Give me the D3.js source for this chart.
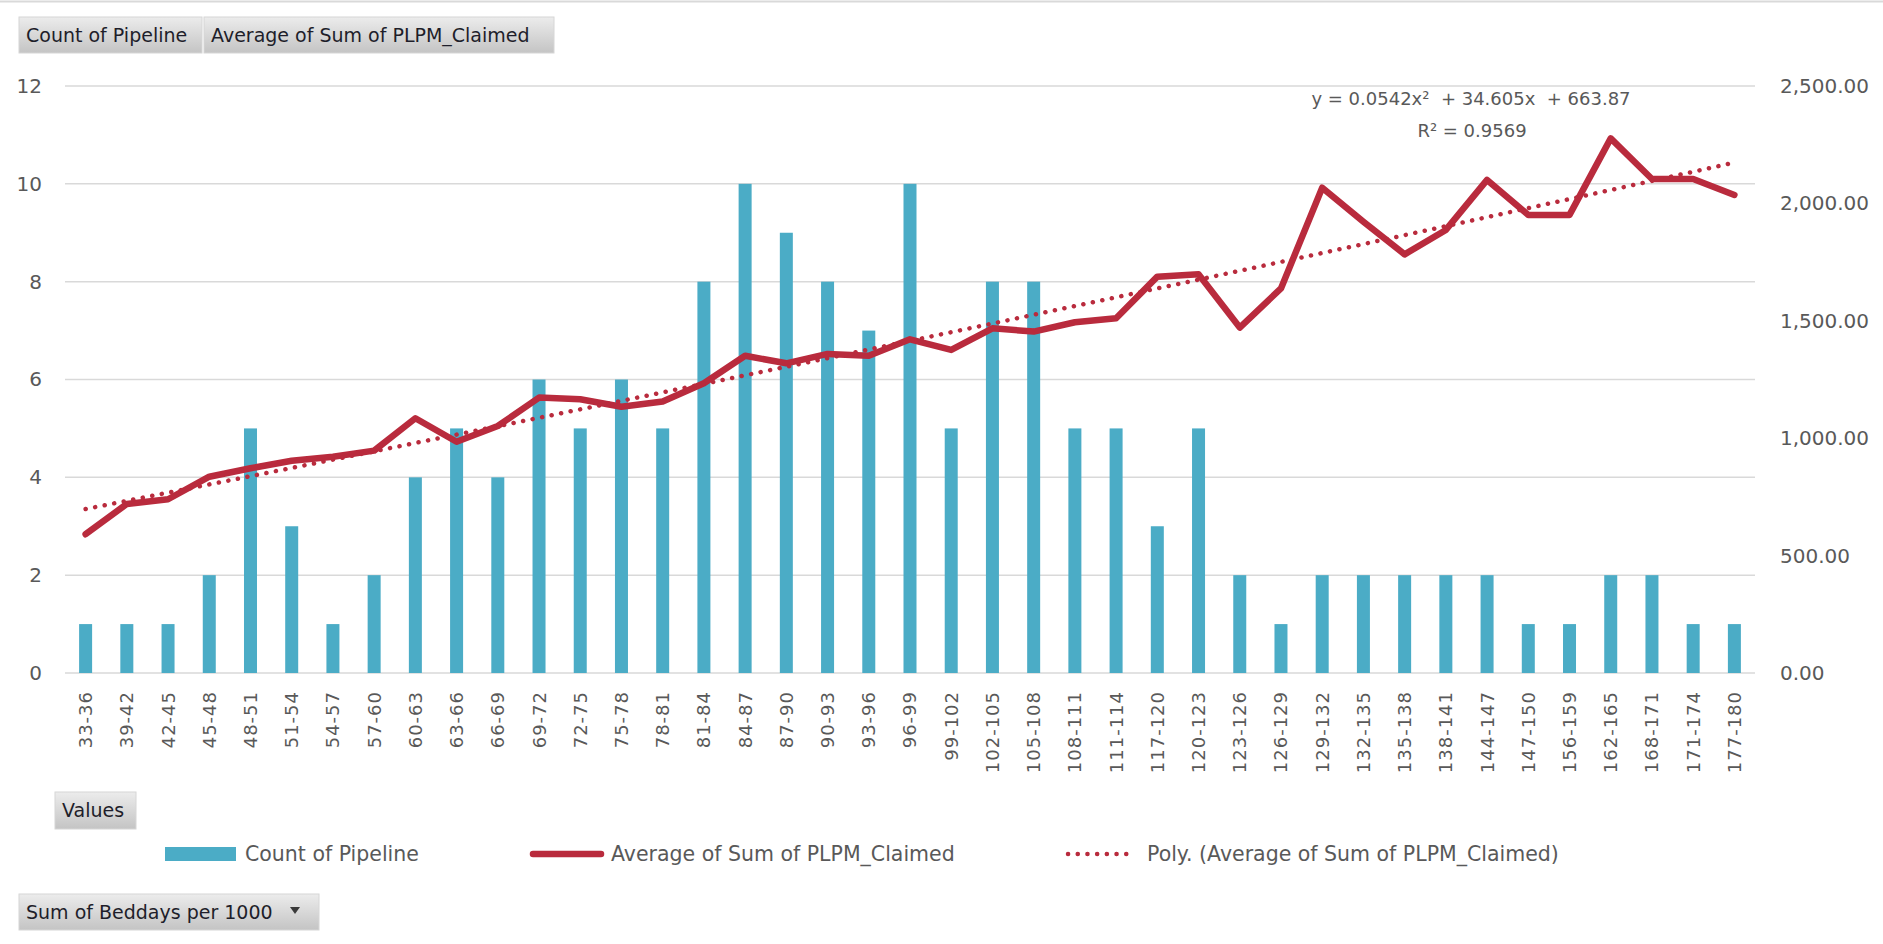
<!DOCTYPE html>
<html>
<head>
<meta charset="utf-8">
<script src="https://cdn.jsdelivr.net/npm/d3@7"></script>
<style>
  body { margin: 0; background: #fff; }
  text { font-family: 'DejaVu Sans', sans-serif; }
</style>
</head>
<body>
<script>
// data
const categories = ['33-36', '39-42', '42-45', '45-48', '48-51', '51-54', '54-57', '57-60', '60-63', '63-66',
  '66-69', '69-72', '72-75', '75-78', '78-81', '81-84', '84-87', '87-90', '90-93', '93-96',
  '96-99', '99-102', '102-105', '105-108', '108-111', '111-114', '117-120', '120-123', '123-126', '126-129',
  '129-132', '132-135', '135-138', '138-141', '144-147', '147-150', '156-159', '162-165', '168-171', '171-174', '177-180'];
const countOfPipeline = [1, 1, 1, 2, 5, 3, 1, 2, 4, 5,
  4, 6, 5, 6, 5, 8, 10, 9, 8, 7,
  10, 5, 8, 8, 5, 5, 3, 5, 2, 1,
  2, 2, 2, 2, 2, 1, 1, 2, 2, 1, 1];
const avgPlpmClaimed = [591, 720, 740, 836, 872, 904, 921, 947, 1085, 985,
  1052, 1173, 1166, 1134, 1156, 1234, 1351, 1319, 1359, 1351,
  1421, 1376, 1468, 1454, 1494, 1511, 1688, 1698, 1471, 1638,
  2067, 1922, 1783, 1887, 2100, 1951, 1951, 2277, 2104, 2104, 2036];
// trendline coefficients as printed on the chart: c0 + c1*x + c2*x^2
const polyCoef = [663.87, 34.605, 0.0542];
const leftTicks = [0, 2, 4, 6, 8, 10, 12];
const rightTicks = [0, 500, 1000, 1500, 2000, 2500];

const W = 1883, H = 944;
const plot = { left: 65, right: 1755, top: 86, bottom: 673 };
const barColor = '#4BACC6';
const lineColor = '#B92B3D';
const textColor = '#595959';

const svg = d3.select('body').append('svg')
  .attr('width', W).attr('height', H);

// gradient for the pivot field buttons
const grad = svg.append('defs').append('linearGradient')
  .attr('id', 'btn').attr('x1', 0).attr('y1', 0).attr('x2', 0).attr('y2', 1);
grad.append('stop').attr('offset', '0%').attr('stop-color', '#ececec');
grad.append('stop').attr('offset', '100%').attr('stop-color', '#c4c4c4');

svg.append('line')
  .attr('x1', 0).attr('x2', W).attr('y1', 1.5).attr('y2', 1.5)
  .attr('stroke', '#d9d9d9').attr('stroke-width', 2);

const x = d3.scaleBand().domain(categories).range([plot.left, plot.right]);
const yL = d3.scaleLinear().domain([0, 12]).range([plot.bottom, plot.top]);
const yR = d3.scaleLinear().domain([0, 2500]).range([plot.bottom, plot.top]);
const cx = (d) => x(d) + x.bandwidth() / 2;

// gridlines
svg.append('g')
  .selectAll('line')
  .data(leftTicks)
  .join('line')
  .attr('x1', plot.left).attr('x2', plot.right)
  .attr('y1', (d) => yL(d)).attr('y2', (d) => yL(d))
  .attr('stroke', '#d9d9d9').attr('stroke-width', 1.5);

// left axis
const gl = svg.append('g')
  .attr('transform', `translate(${plot.left},0)`)
  .call(d3.axisLeft(yL).tickValues(leftTicks).tickSize(0).tickPadding(23));
gl.select('.domain').remove();
gl.selectAll('text').attr('fill', textColor).style('font-size', '20px')
  .style('font-family', "'DejaVu Sans', sans-serif");

// right axis
const gr = svg.append('g')
  .attr('transform', `translate(${plot.right},0)`)
  .call(d3.axisRight(yR).tickValues(rightTicks).tickFormat(d3.format(',.2f')).tickSize(0).tickPadding(25));
gr.select('.domain').remove();
gr.selectAll('text').attr('fill', textColor).style('font-size', '20px')
  .style('font-family', "'DejaVu Sans', sans-serif");

// x axis, rotated labels
const gx = svg.append('g')
  .attr('transform', `translate(0,${plot.bottom})`)
  .call(d3.axisBottom(x).tickSize(0));
gx.select('.domain').remove();
gx.selectAll('text')
  .attr('transform', 'rotate(-90)')
  .attr('text-anchor', 'end')
  .attr('x', -18).attr('y', 0).attr('dy', '0.36em')
  .attr('fill', textColor)
  .style('font-size', '18px')
  .style('letter-spacing', '1px')
  .style('font-family', "'DejaVu Sans', sans-serif");

// bars
const barW = 13;
svg.append('g')
  .selectAll('rect')
  .data(categories)
  .join('rect')
  .attr('x', (d) => cx(d) - barW / 2)
  .attr('y', (d, i) => yL(countOfPipeline[i]))
  .attr('width', barW)
  .attr('height', (d, i) => yL(0) - yL(countOfPipeline[i]))
  .attr('fill', barColor);

// average line
const line = d3.line()
  .x((d) => cx(d))
  .y((d, i) => yR(avgPlpmClaimed[i]));
svg.append('path')
  .datum(categories)
  .attr('d', line)
  .attr('fill', 'none')
  .attr('stroke', lineColor)
  .attr('stroke-width', 6.5)
  .attr('stroke-linejoin', 'round')
  .attr('stroke-linecap', 'round');

// polynomial trendline (x = category number 1..n)
const xIdx = d3.scaleLinear().domain([1, categories.length])
  .range([cx(categories[0]), cx(categories[categories.length - 1])]);
const trendPts = d3.range(1, categories.length + 0.001, 0.25);
svg.append('path')
  .datum(trendPts)
  .attr('d', d3.line()
    .x((t) => xIdx(t))
    .y((t) => yR(polyCoef[0] + polyCoef[1] * t + polyCoef[2] * t * t)))
  .attr('fill', 'none')
  .attr('stroke', lineColor)
  .attr('stroke-width', 4.5)
  .attr('stroke-linecap', 'round')
  .attr('stroke-dasharray', '0.1 9.6');

// trendline label
const eq = svg.append('text')
  .attr('text-anchor', 'middle')
  .attr('fill', textColor)
  .style('font-size', '18px');
eq.append('tspan').attr('x', 1471).attr('y', 105).attr('xml:space', 'preserve')
  .text('y = 0.0542x\u00B2  + 34.605x  + 663.87');
eq.append('tspan').attr('x', 1472).attr('y', 137).text('R\u00B2 = 0.9569');

// pivot buttons
function button(bx, by, bw, bh, label, arrow) {
  const g = svg.append('g');
  g.append('rect')
    .attr('x', bx).attr('y', by).attr('width', bw).attr('height', bh)
    .attr('fill', 'url(#btn)')
    .attr('stroke', '#d6d6d6').attr('stroke-width', 1);
  g.append('text')
    .attr('x', bx + 7).attr('y', by + bh / 2).attr('dy', '0.36em')
    .attr('fill', '#1e1e2a')
    .style('font-size', '19px')
    .text(label);
  if (arrow) {
    const ax = bx + bw - 24, ay = by + bh / 2 - 2;
    g.append('path')
      .attr('d', `M${ax - 5},${ay - 3}L${ax + 5},${ay - 3}L${ax},${ay + 4}Z`)
      .attr('fill', '#3a3a3a');
  }
}
button(19, 17, 183, 36, 'Count of Pipeline');
button(204, 17, 350, 36, 'Average of Sum of PLPM_Claimed');
button(55, 792, 81, 37, 'Values');
button(19, 894, 300, 36, 'Sum of Beddays per 1000', true);

// legend
const legY = 854;
const leg = svg.append('g');
leg.append('rect').attr('x', 165).attr('y', legY - 7).attr('width', 71).attr('height', 14).attr('fill', barColor);
leg.append('line').attr('x1', 533).attr('x2', 601).attr('y1', legY).attr('y2', legY)
  .attr('stroke', lineColor).attr('stroke-width', 6.5).attr('stroke-linecap', 'round');
leg.append('line').attr('x1', 1068).attr('x2', 1134).attr('y1', legY).attr('y2', legY)
  .attr('stroke', lineColor).attr('stroke-width', 4.5).attr('stroke-linecap', 'round')
  .attr('stroke-dasharray', '0.1 9.6');
const legendLabels = [
  { x: 245, t: 'Count of Pipeline' },
  { x: 611, t: 'Average of Sum of PLPM_Claimed' },
  { x: 1147, t: 'Poly. (Average of Sum of PLPM_Claimed)' },
];
leg.selectAll('text')
  .data(legendLabels)
  .join('text')
  .attr('x', (d) => d.x).attr('y', legY).attr('dy', '0.36em')
  .attr('fill', textColor)
  .style('font-size', '20.5px')
  .text((d) => d.t);
</script>
</body>
</html>
